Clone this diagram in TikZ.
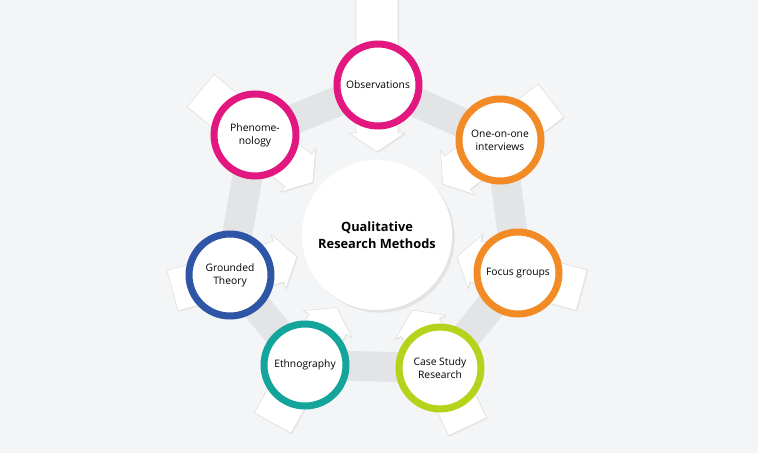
\documentclass[tikz,border=0pt]{standalone}
\usepackage{fontspec}
\setmainfont{Open Sans}
\usetikzlibrary{shadows}
\definecolor{bg}{HTML}{F4F5F6}
\definecolor{band}{HTML}{E3E4E5}
\definecolor{cmag}{HTML}{E2177F}
\definecolor{corg}{HTML}{F28A26}
\definecolor{cblu}{HTML}{2E55A6}
\definecolor{ctea}{HTML}{13A59B}
\definecolor{clim}{HTML}{B7D21B}
\tikzset{
 x=1pt,y=-1pt,
 method/.style={circle,minimum size=82pt,line width=7pt,fill=white,font=\fontsize{10.3}{13}\selectfont,align=center,inner sep=0pt},
 arrowshape/.style={fill=white,draw=black!12,line width=0.6pt,drop shadow={opacity=0.12,shadow xshift=1pt,shadow yshift=-1pt}},
}
\begin{document}
\begin{tikzpicture}
\fill[bg] (0,0) rectangle (758,453);
\useasboundingbox (0,0) rectangle (758,453);
\coordinate (c) at (377,235);
\coordinate (p1) at (378,85);
\coordinate (p2) at (500,140);
\coordinate (p3) at (518,273);
\coordinate (p4) at (440,368);
\coordinate (p5) at (305,365);
\coordinate (p6) at (230,275);
\coordinate (p7) at (255,135);
\draw[band,line width=30pt,line join=round] (p1)--(p2)--(p3)--(p4)--(p5)--(p6)--(p7)--cycle;
\foreach \a/\l in {-90/236,-37.7/220,15.1/212,64.7/212,119/215,164.8/212,-140.7/228}{
 \begin{scope}[shift={(377,235)},rotate=-\a]
 \filldraw[arrowshape] (83,0)--(102,28)--(102,21)--(\l,21)--(\l,-21)--(102,-21)--(102,-28)--cycle;
 \end{scope}
}
\node[circle,minimum size=150pt,fill=white,drop shadow={opacity=0.15}] (center) at (c) {};
\node[font=\bfseries\fontsize{12.8}{17}\selectfont,align=center] at (center) {Qualitative\\Research Methods};
\node[method,draw=cmag] (obs) at (p1) {Observations};
\node[method,draw=corg] (int) at (p2) {One-on-one\\interviews};
\node[method,draw=corg] (foc) at (p3) {Focus groups};
\node[method,draw=clim] (cas) at (p4) {Case Study\\Research};
\node[method,draw=ctea] (eth) at (p5) {Ethnography};
\node[method,draw=cblu] (gro) at (p6) {Grounded\\Theory};
\node[method,draw=cmag] (phe) at (p7) {Phenome-\\nology};
\end{tikzpicture}
\end{document}
